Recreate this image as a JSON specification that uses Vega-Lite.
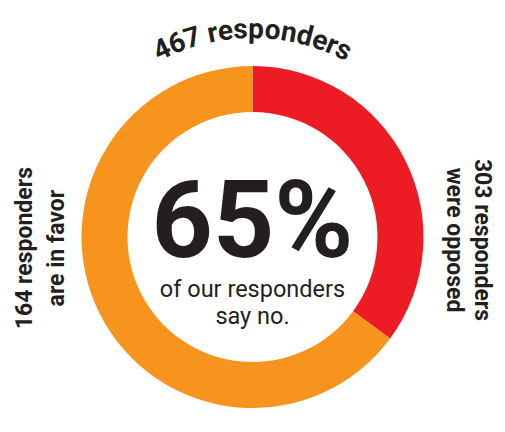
{
  "$schema": "https://vega.github.io/schema/vega-lite/v6.json",
  "width": 505,
  "height": 390,
  "autosize": "none",
  "padding": {"top": 42, "left": 0, "right": 0, "bottom": 0},
  "background": "white",
  "config": {"view": {"stroke": null}},
  "resolve": {"scale": {"theta": "independent", "angle": "independent"}},
  "layer": [
    {
      "data": {"values": [
        {"group": "A", "count": 164},
        {"group": "B", "count": 303}
      ]},
      "mark": {"type": "arc", "outerRadius": 171, "innerRadius": 125, "strokeWidth": 0},
      "encoding": {
        "theta": {"field": "count", "type": "quantitative", "stack": true},
        "color": {"field": "group", "type": "nominal", "scale": {"domain": ["A", "B"], "range": ["#ED1C24", "#F7941D"]}, "legend": null},
        "order": {"field": "group", "type": "nominal", "sort": "ascending"}
      }
    },
    {
      "data": {"values": [
        {"ch": "4", "deg": -25.8},
        {"ch": "6", "deg": -21.3},
        {"ch": "7", "deg": -16.8},
        {"ch": "r", "deg": -11.1},
        {"ch": "e", "deg": -7.5},
        {"ch": "s", "deg": -3.3},
        {"ch": "p", "deg": 1.0},
        {"ch": "o", "deg": 5.6},
        {"ch": "n", "deg": 10.1},
        {"ch": "d", "deg": 14.6},
        {"ch": "e", "deg": 19.0},
        {"ch": "r", "deg": 22.5},
        {"ch": "s", "deg": 26.0}
      ]},
      "mark": {"type": "text", "radius": 199, "font": "Roboto", "fontWeight": "bold", "fontSize": 28, "baseline": "alphabetic", "align": "center", "color": "#231F20"},
      "encoding": {
        "theta": {"field": "deg", "type": "quantitative", "stack": null, "scale": {"domain": [-180, 180], "range": [-3.14159265, 3.14159265], "zero": false, "nice": false}},
        "angle": {"field": "deg", "type": "quantitative", "scale": {"domain": [-180, 180], "range": [-180, 180], "zero": false, "nice": false}},
        "text": {"field": "ch", "type": "nominal"}
      }
    },
    {
      "data": {"values": [{"t": "164 responders\nare in favor", "deg": 267.2}]},
      "mark": {"type": "text", "radius": 227.5, "angle": 270, "lineBreak": "\n", "lineHeight": 32, "font": "Roboto", "fontWeight": "bold", "fontSize": 23, "baseline": "middle", "align": "center", "color": "#231F20"},
      "encoding": {
        "theta": {"field": "deg", "type": "quantitative", "stack": null, "scale": {"domain": [0, 360], "range": [0, 6.2831853], "zero": false, "nice": false}},
        "text": {"field": "t", "type": "nominal"}
      }
    },
    {
      "data": {"values": [{"t": "303 responders\nwere opposed", "deg": 90.75}]},
      "mark": {"type": "text", "radius": 229.5, "angle": 90, "lineBreak": "\n", "lineHeight": 28, "font": "Roboto", "fontWeight": "bold", "fontSize": 23, "baseline": "middle", "align": "center", "color": "#231F20"},
      "encoding": {
        "theta": {"field": "deg", "type": "quantitative", "stack": null, "scale": {"domain": [0, 360], "range": [0, 6.2831853], "zero": false, "nice": false}},
        "text": {"field": "t", "type": "nominal"}
      }
    },
    {
      "data": {"values": [{"t": "65%"}]},
      "mark": {"type": "text", "font": "Roboto", "fontWeight": "bold", "fontSize": 107, "baseline": "alphabetic", "align": "center", "dy": 20, "color": "#231F20"},
      "encoding": {"text": {"field": "t", "type": "nominal"}}
    },
    {
      "data": {"values": [{"t": "of our responders\nsay no."}]},
      "mark": {"type": "text", "font": "Roboto", "fontSize": 23.5, "lineBreak": "\n", "lineHeight": 26.5, "baseline": "alphabetic", "align": "center", "dy": 60, "color": "#231F20"},
      "encoding": {"text": {"field": "t", "type": "nominal"}}
    }
  ]
}
